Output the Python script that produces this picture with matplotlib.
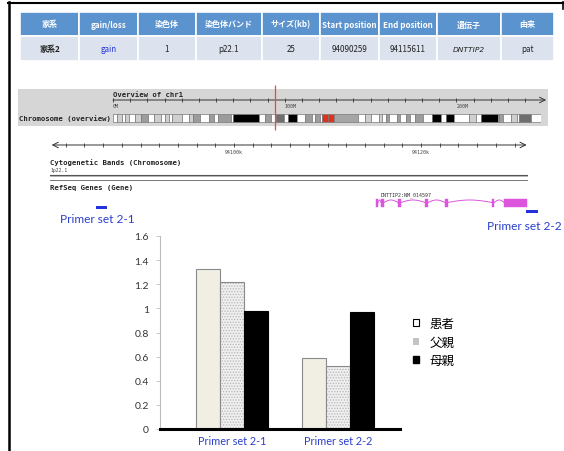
import numpy as np
import matplotlib
matplotlib.use('Agg')
import matplotlib.pyplot as plt
from matplotlib.patches import Rectangle, Patch

plt.rcParams['font.family'] = ['Lato', 'Noto Sans CJK JP', 'DejaVu Sans']
plt.rcParams['hatch.linewidth'] = 0.6

W, H = 564, 452

# ---- data ----
headers = ['家系', 'gain/loss', '染色体', '染色体バンド', 'サイズ(kb)',
           'Start position', 'End position', '遺伝子', '由来']
row = ['家系2', 'gain', '1', 'p22.1', '25', '94090259', '94115611', 'DNTTIP2', 'pat']

primers = ['Primer set 2-1', 'Primer set 2-2']
series = ['患者', '父親', '母親']
patient = [1.33, 0.59]
father = [1.22, 0.52]
mother = [0.98, 0.97]

# chr1 ideogram bands (Mb)
band_start = [0, 2.3, 5.3, 7.2, 9.2, 12.7, 16.2, 20.4, 23.9, 28, 30.2, 32.4, 34.6, 40.1,
              44.1, 46.8, 50.7, 56.1, 59, 61.3, 68.9, 69.7, 84.9, 88.4, 92, 94.7, 99.7,
              102.2, 107.2, 111.8, 116.1, 117.8, 120.6, 121.5, 125, 128.9, 142.6, 147,
              150.3, 155, 156.5, 159.1, 160.5, 165.5, 167.2, 170.9, 172.9, 176, 180.3,
              185.8, 190.8, 193.8, 198.7, 207.2, 211.5, 214.5, 224.1, 224.6, 227, 231.7,
              235.6, 236.4, 243.5]
band_stain = ['w', 'g25', 'w', 'g25', 'w', 'g25', 'g50', 'w', 'g25', 'w', 'g25', 'w', 'g25', 'w',
              'g25', 'g50', 'w', 'g50', 'w', 'g50', 'w', 'k', 'w', 'g50', 'w', 'g75', 'w',
              'k', 'w', 'g50', 'w', 'g50', 'w', 'acen', 'acen', 'gvar', 'w', 'g25',
              'w', 'g25', 'w', 'g50', 'w', 'g50', 'w', 'g50', 'w', 'g50', 'w',
              'k', 'w', 'k', 'w', 'g25', 'w', 'k', 'w', 'g50', 'w', 'g25',
              'w', 'g75', 'w']
chr1_len = 249.3

# DNTTIP2 exons (kb) and primer amplicons (kb)
exon_start = [94115.19, 94115.72, 94117.54, 94120.43, 94122.57, 94127.59, 94128.88]
exon_end = [94115.40, 94116.04, 94117.86, 94120.75, 94122.85, 94127.85, 94131.34]
primer_start = [94085.24, 94131.23]
primer_end = [94086.42, 94132.51]

stain_color = {'w': 'white', 'g25': '#CFCFCF', 'g50': '#9C9C9C', 'g75': '#6E6E6E',
               'k': 'black', 'gvar': '#A5A5A5', 'acen': '#E0301E'}


def ax_rect(x0, y0, x1, y1):
    return [x0 / W, 1 - y1 / H, (x1 - x0) / W, (y1 - y0) / H]


fig = plt.figure(figsize=(W / 100, H / 100), dpi=100)

bg = fig.add_axes([0, 0, 1, 1])
bg.set_xlim(0, W)
bg.set_ylim(H, 0)
bg.axis('off')

# frame
bg.plot([8.5, 8.5], [3, H], color='black', lw=1.8)
bg.plot([8, 563], [4, 4], color='black', lw=1.5)
bg.plot([562.5, 562.5], [3, 10], color='black', lw=1.2)

# table
col_x = [20, 79, 138, 196, 261.5, 320, 379, 437, 501, 554]
row_y = [13, 37, 62]
cjk = ['Noto Sans CJK JP', 'DejaVu Sans']
for i in range(len(headers)):
    x0, x1 = col_x[i], col_x[i + 1]
    bg.add_patch(Rectangle((x0, row_y[0]), x1 - x0, row_y[1] - row_y[0],
                           facecolor='#5B93CF', edgecolor='white', lw=1.2))
    bg.add_patch(Rectangle((x0, row_y[1]), x1 - x0, row_y[2] - row_y[1],
                           facecolor='#DCE3EE', edgecolor='white', lw=1.2))
    cx = (x0 + x1) / 2
    bg.text(cx, 25, headers[i], ha='center', va='center', color='white',
            fontsize=5.8, fontweight='bold', family=cjk)
    kw = dict(ha='center', va='center', fontsize=5.8, family=cjk, color='#222222')
    if i == 0:
        kw['fontweight'] = 'bold'
    if i == 1:
        kw['color'] = '#2233DD'
    if i == 7:
        kw['style'] = 'italic'
        kw['family'] = ['DejaVu Sans']
        kw['fontsize'] = 5.4
    bg.text(cx, 49.5, row[i], **kw)

# overview panel
bg.add_patch(Rectangle((18, 90), 530, 37, facecolor='#D6D6D6', edgecolor='none'))
mono = 'DejaVu Sans Mono'
bg.text(113, 95, 'Overview of chr1', fontsize=5.2, fontweight='bold', family=mono,
        va='center', color='#222222')
bg.text(111, 118.5, 'Chromosome (overview)', fontsize=5.2, fontweight='bold', family=mono,
        va='center', ha='right', color='#222222')

ov = fig.add_axes(ax_rect(113, 84, 541, 134))
ov.set_xlim(0, chr1_len)
ov.set_ylim(134, 84)
ov.axis('off')
band_end = band_start[1:] + [chr1_len]
ov.broken_barh([(s, e - s) for s, e in zip(band_start, band_end)], (115, 7.5),
               facecolors=[stain_color[s] for s in band_stain],
               edgecolors='#7A7A7A', linewidth=0.5)
ov.annotate('', xy=(chr1_len + 3, 101), xytext=(0, 101),
            arrowprops=dict(arrowstyle='->', lw=0.7, color='#333333',
                            shrinkA=0, shrinkB=0), annotation_clip=False)
ticks_mb = np.arange(0, 250, 10)
ov.plot(ticks_mb, [101] * len(ticks_mb), '|', ms=3, mew=0.6, color='#333333')
for m in [0, 100, 200]:
    ov.text(m, 106.5, '%dM' % m, fontsize=3.6, family=mono, color='#444444', va='center')
cnv_mb = int(row[5]) / 1e6
ov.vlines(cnv_mb, 86, 131, color='#F04A2A', lw=0.9, zorder=5)

# region view
kb_left, kb_right = 94079.25, 94135.08
rg = fig.add_axes(ax_rect(40, 138, 562, 234))
rg.set_xlim(kb_left, kb_right)
rg.set_ylim(234, 138)
rg.axis('off')
rg.annotate('', xy=(94131.3, 146), xytext=(94080.5, 146),
            arrowprops=dict(arrowstyle='<->', lw=0.7, color='#333333',
                            shrinkA=0, shrinkB=0), annotation_clip=False)
ticks_kb = np.arange(94082, 94131, 2)
rg.plot(ticks_kb, [146] * len(ticks_kb), '|', ms=3, mew=0.6, color='#333333')
for k in [94100, 94120]:
    rg.text(k, 153, '%dk' % k, fontsize=3.6, family=mono, color='#444444',
            ha='center', va='center')

gene_c = '#DD55DD'
for i in range(len(exon_start) - 1):
    x0, x1 = exon_end[i], exon_start[i + 1]
    t = np.linspace(0, 1, 30)
    rg.plot(x0 + (x1 - x0) * t, 203.5 - 2.5 * np.sin(np.pi * t), color=gene_c, lw=0.7)
for s, e in zip(exon_start, exon_end):
    rg.add_patch(Rectangle((s, 199.5), e - s, 8, facecolor=gene_c, edgecolor=gene_c, lw=0.3))
rg.text(exon_start[0] + 0.5, 195, 'DNTTIP2:NM_014597', fontsize=3.6, family=mono,
        color='#333333', va='center')
for (s, e), yy in zip(zip(primer_start, primer_end), [208, 212]):
    rg.add_patch(Rectangle((s, yy - 1.5), e - s, 3, facecolor='#2233DD', edgecolor='none'))

bg.text(50, 163, 'Cytogenetic Bands (Chromosome)', fontsize=5.2, fontweight='bold',
        family=mono, va='center', color='#222222')
bg.text(50, 170.5, '1p22.1', fontsize=3.4, family=mono, va='center', color='#444444')
bg.plot([50, 527], [175.5, 175.5], color='#555555', lw=0.8)
bg.plot([50, 527], [177.3, 177.3], color='#AAAAAA', lw=0.6)
bg.plot([50, 527], [181, 181], color='#777777', lw=0.7)
bg.text(50, 188, 'RefSeq Genes (Gene)', fontsize=5.2, fontweight='bold',
        family=mono, va='center', color='#222222')

blue = '#2A3FCC'
bg.text(97.5, 220, primers[0], fontsize=8.6, color=blue, ha='center', va='center')
bg.text(524, 227, primers[1], fontsize=8.6, color=blue, ha='center', va='center')

# qPCR bar chart
ax = fig.add_axes(ax_rect(160, 237, 400, 430))
x = np.arange(len(primers))
w = 0.2264
ax.bar(x - w, patient, w, color='#F1EFE4', edgecolor='#8A8A8A', lw=0.8)
ax.bar(x, father, w, color='#EFEFEF', edgecolor='#B5B5B5', hatch='......', lw=0)
ax.bar(x, father, w, fill=False, edgecolor='#8A8A8A', lw=0.8)
ax.bar(x + w, mother, w, color='black', edgecolor='black', lw=0.8)
ax.set_xlim(-0.679, 1.585)
ax.set_ylim(0, 1.6)
yt = np.round(np.arange(0, 1.61, 0.2), 1)
ax.set_yticks(yt)
ax.set_yticklabels(['%g' % v for v in yt], fontsize=7.5, color='#333333')
ax.set_xticks(x)
ax.set_xticklabels(primers, fontsize=7.8, color=blue)
ax.tick_params(axis='x', length=0, pad=4)
ax.tick_params(axis='y', length=3, width=0.6, color='#BBBBBB', pad=5)
for sp in ['top', 'right']:
    ax.spines[sp].set_visible(False)
ax.spines['left'].set_color('#BBBBBB')
ax.spines['left'].set_linewidth(0.8)
ax.spines['bottom'].set_color('black')
ax.spines['bottom'].set_linewidth(2.2)
ax.patch.set_alpha(0)

handles = [Patch(facecolor='white', edgecolor='black', lw=0.8),
           Patch(facecolor='#C4C4C4', edgecolor='none'),
           Patch(facecolor='black', edgecolor='black')]
fig.legend(handles, series, loc='upper left', bbox_to_anchor=(413 / W, 1 - 318 / H),
           frameon=False, handlelength=0.45, handleheight=0.45, handletextpad=0.9,
           labelspacing=0.45, borderpad=0, borderaxespad=0,
           prop={'family': 'Noto Sans CJK JP', 'size': 9})

fig.savefig('out.png', dpi=100)
